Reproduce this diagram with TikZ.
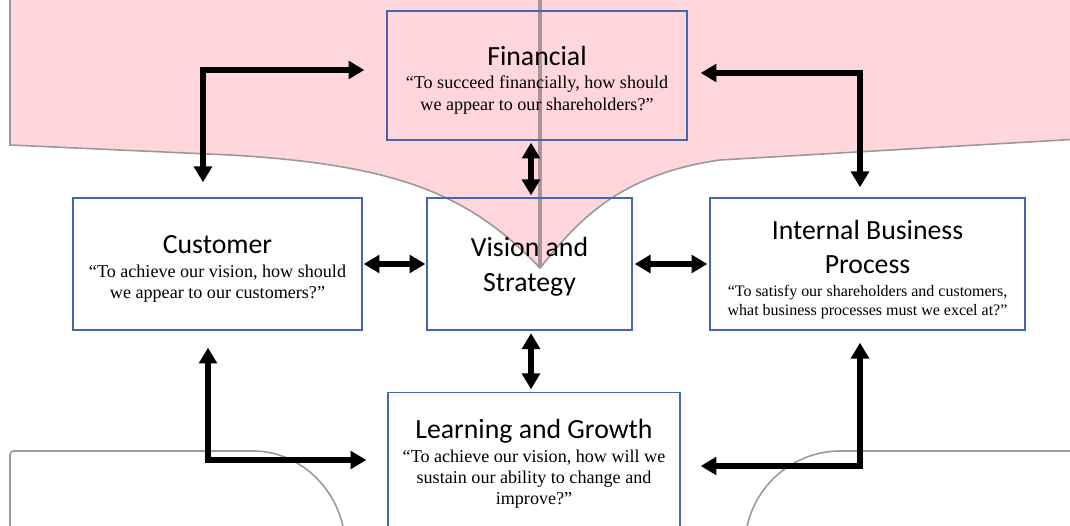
\documentclass[tikz,border=0pt]{standalone}
\usepackage{fontspec}
\setmainfont{Liberation Serif}
\newfontfamily\calibri{Carlito}
\usepackage{tikz}
\usetikzlibrary{arrows.meta,calc}
\definecolor{pinkbg}{HTML}{FFD6DB}
\definecolor{edgegray}{HTML}{999999}
\definecolor{spine}{HTML}{A8949A}
\definecolor{boxblue}{HTML}{4468B0}
\newcommand{\quoteFnt}{\fontsize{10.3}{12.1}\selectfont}
\newcommand{\smallQuoteFnt}{\fontsize{9.1}{10.4}\selectfont}
\newcommand{\titleFnt}{\calibri\fontsize{15.8}{19.5}\selectfont}
\newcommand{\topStrut}[1]{\rule{0pt}{#1}}
\tikzset{
  perspBox/.style={draw=boxblue, line width=0.8pt, align=center, inner sep=2pt, font=\quoteFnt},
  linkArrow/.style={draw=black, line width=3.1pt,
    {Triangle[width=10pt,length=9pt]}-{Triangle[width=10pt,length=9pt]}},
  shapeEdge/.style={draw=edgegray, line width=0.9pt},
}

\begin{document}
\begin{tikzpicture}[x=0.02cm, y=-0.02cm]
  \useasboundingbox (0,0) rectangle (1070,526);
  \clip (0,0) rectangle (1070,526);

  % background shapes
  \fill[pinkbg, shapeEdge] (10,-10) -- (10,145) -- (230,155)
    .. controls (400,165) and (470,195) .. (540,268)
    .. controls (575,225) and (615,175) .. (720,160)
    -- (1080,139) -- (1080,-10) -- cycle;
  \draw[spine, line width=1.8pt] (540,-5) -- (540,268);
  \draw[shapeEdge, rounded corners=2pt] (10,540) -- (10,451) -- (250,451)
    .. controls (302,451) and (345,494) .. (345,546);
  \draw[shapeEdge] (1080,451) -- (840,451)
    .. controls (788,451) and (745,494) .. (745,546);

  % perspectives
  \node[perspBox, minimum width=6cm, minimum height=2.58cm] (fin) at (537,75.5)
    {{\titleFnt\topStrut{16pt}Financial}\\[1.5pt]
     “To succeed financially, how should\\
     we appear to our shareholders?”};
  \node[perspBox, minimum width=5.78cm, minimum height=2.64cm] (cust) at (217.5,264)
    {{\titleFnt\topStrut{16pt}Customer}\\[1.5pt]
     “To achieve our vision, how should\\
     we appear to our customers?”};
  \node[perspBox, minimum width=4.1cm, minimum height=2.64cm, font=\titleFnt] (vis) at (529.5,264)
    {\topStrut{14pt}Vision and\\Strategy};
  \node[perspBox, minimum width=6.3cm, minimum height=2.64cm, font=\smallQuoteFnt] (intl) at (867.5,264)
    {{\titleFnt\topStrut{17pt}Internal Business}\\[9pt]
     {\titleFnt Process}\\[3pt]
     “To satisfy our shareholders and customers,\\
     what business processes must we excel at?”};
  \node[perspBox, minimum width=5.84cm, minimum height=2.7cm] (lrn) at (534,460)
    {{\titleFnt\topStrut{15.5pt}Learning and Growth}\\[1.5pt]
     “To achieve our vision, how will we\\
     sustain our ability to change and\\
     improve?”};

  % links
  \draw[linkArrow, shorten <=0.3cm, shorten >=0.44cm]
    ([xshift=-0.29cm]cust.north) |- ([yshift=0.11cm]fin.west);
  \draw[linkArrow, shorten <=0.26cm, shorten >=0.2cm]
    ([yshift=0.05cm]fin.east) -| ([xshift=-0.15cm]intl.north);
  \draw[linkArrow, shorten <=0.04cm, shorten >=0.04cm]
    ([xshift=0.03cm]vis.north |- fin.south) -- ([xshift=0.03cm]vis.north);
  \draw[linkArrow, shorten <=0.02cm, shorten >=0.02cm] (cust.east) -- (vis.west);
  \draw[linkArrow, shorten <=0.04cm, shorten >=0.04cm] (vis.east) -- (intl.west);
  \draw[linkArrow, shorten <=0.05cm, shorten >=0.05cm]
    ([xshift=0.03cm]vis.south) -- ([xshift=0.03cm]vis.south |- lrn.north);
  \draw[linkArrow, shorten <=0.34cm, shorten >=0.42cm]
    ([xshift=-0.19cm]cust.south) |- (lrn.west);
  \draw[linkArrow, shorten <=0.24cm, shorten >=0.4cm]
    ([xshift=-0.15cm]intl.south) |- ([yshift=-0.12cm]lrn.east);
\end{tikzpicture}
\end{document}
